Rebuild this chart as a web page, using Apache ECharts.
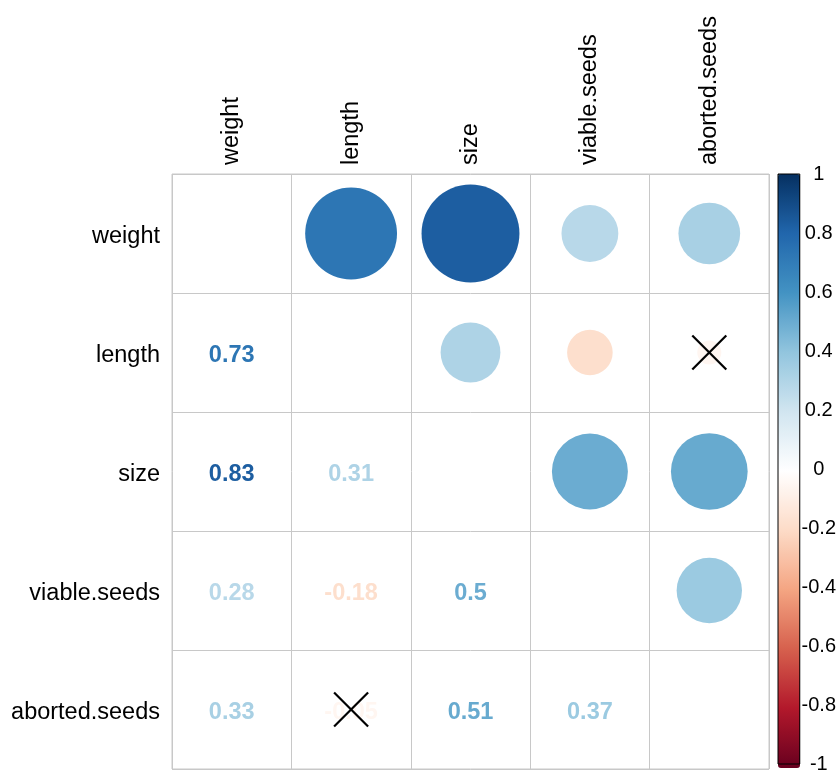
<!DOCTYPE html>
<html>
<head>
<meta charset="utf-8">
<script src="https://cdn.jsdelivr.net/npm/echarts@6/dist/echarts.min.js"></script>
<style>html,body{margin:0;padding:0;background:#fff;}#c{width:839px;height:774px;}</style>
</head>
<body>
<div id="c"></div>
<script>
// Variables (rows and columns of the correlation matrix)
const variables = ['weight', 'length', 'size', 'viable.seeds', 'aborted.seeds'];
// Correlation matrix rows
const corrWeight  = [1.00, 0.73, 0.83, 0.28, 0.33];
const corrLength  = [0.73, 1.00, 0.31, -0.18, -0.05];
const corrSize    = [0.83, 0.31, 1.00, 0.50, 0.51];
const corrViable  = [0.28, -0.18, 0.50, 1.00, 0.37];
const corrAborted = [0.33, -0.05, 0.51, 0.37, 1.00];
const corrRows = [corrWeight, corrLength, corrSize, corrViable, corrAborted];
// Non-significant pairs (marked with a cross)
const insignificant = [['length', 'aborted.seeds']];
// Colour bar tick labels
const colorbarTicks = [1, 0.8, 0.6, 0.4, 0.2, 0, -0.2, -0.4, -0.6, -0.8, -1];
// RdBu palette (low to high)
const palette = ['#67001F', '#B2182B', '#D6604D', '#F4A582', '#FDDBC7', '#FFFFFF',
                 '#D1E5F0', '#92C5DE', '#4393C3', '#2166AC', '#053061'];

const circleData = [], textData = [], crossData = [];
for (let i = 0; i < variables.length; i++) {
  for (let j = 0; j < variables.length; j++) {
    if (i === j) continue;
    const v = corrRows[i][j];
    if (j > i) circleData.push([variables[j], variables[i], v]);
    else textData.push([variables[j], variables[i], v]);
  }
}
insignificant.forEach(function (p) {
  const a = variables.indexOf(p[0]), b = variables.indexOf(p[1]);
  crossData.push([variables[b], variables[a]]);
  crossData.push([variables[a], variables[b]]);
});

const FONT = '"Liberation Sans", Arial, sans-serif';
const chart = echarts.init(document.getElementById('c'), null, {renderer: 'canvas'});
chart.setOption({
  animation: false,
  backgroundColor: '#fff',
  grid: [
    {left: 172, top: 174, width: 597, height: 595, show: true, borderColor: '#c8c8c8', borderWidth: 1, containLabel: false},
    {left: 778, top: 174, width: 22, height: 594, show: true, borderColor: '#000', borderWidth: 1, z: 10, backgroundColor: 'transparent'}
  ],
  xAxis: [
    {type: 'category', data: variables, position: 'top', gridIndex: 0,
     axisLine: {show: false}, axisTick: {show: false},
     splitLine: {show: true, interval: 0, lineStyle: {color: '#c8c8c8', width: 1}},
     axisLabel: {rotate: -90, margin: 9, color: '#000', fontSize: 23.5, fontFamily: FONT, interval: 0}},
    {type: 'value', gridIndex: 1, show: false, min: 0, max: 1}
  ],
  yAxis: [
    {type: 'category', data: variables, inverse: true, gridIndex: 0,
     axisLine: {show: false}, axisTick: {show: false},
     splitLine: {show: true, interval: 0, lineStyle: {color: '#c8c8c8', width: 1}},
     axisLabel: {margin: 12, interval: 0, formatter: '{a|{value}}',
       rich: {a: {color: '#000', fontSize: 23.5, fontFamily: FONT, padding: [7, 0, 0, 0]}}}},
    {type: 'value', gridIndex: 1, min: -1, max: 1, interval: 0.2, position: 'right',
     axisLine: {show: false}, splitLine: {show: false},
     axisTick: {show: true, length: 3, lineStyle: {color: '#000'}},
     axisLabel: {show: true, margin: 19, align: 'center', verticalAlign: 'middle', color: '#000', fontSize: 20, fontFamily: FONT,
       formatter: function (v) { const r = Math.round(v * 10) / 10; return colorbarTicks.indexOf(r) >= 0 ? String(r) : ''; }}}
  ],
  visualMap: {
    type: 'continuous', min: -1, max: 1, dimension: 2, seriesIndex: [0, 1],
    left: 778, top: 174, itemWidth: 22, itemHeight: 594, padding: 0,
    calculable: false, hoverLink: false, text: null, showLabel: false,
    inRange: {color: palette}
  },
  series: [
    {type: 'custom', xAxisIndex: 0, yAxisIndex: 0, data: circleData,
     renderItem: function (params, api) {
       const c = api.coord([api.value(0), api.value(1)]);
       const s = api.size([1, 1]);
       const r = s[0] * 0.45 * Math.sqrt(Math.abs(api.value(2)));
       return {type: 'circle', shape: {cx: c[0], cy: c[1], r: r}, style: {fill: api.visual('color')}};
     }},
    {type: 'custom', xAxisIndex: 0, yAxisIndex: 0, data: textData,
     renderItem: function (params, api) {
       const c = api.coord([api.value(0), api.value(1)]);
       return {type: 'text', x: c[0], y: c[1] + 3,
         style: {text: String(api.value(2)), fill: api.visual('color'), font: 'bold 23.5px ' + FONT, align: 'center', verticalAlign: 'middle'}};
     }},
    {type: 'custom', xAxisIndex: 0, yAxisIndex: 0, data: crossData, z: 5,
     renderItem: function (params, api) {
       const c = api.coord([api.value(0), api.value(1)]);
       const h = 17;
       return {type: 'group', children: [
         {type: 'line', shape: {x1: c[0] - h, y1: c[1] - h, x2: c[0] + h, y2: c[1] + h}, style: {stroke: '#000', lineWidth: 2.2}},
         {type: 'line', shape: {x1: c[0] - h, y1: c[1] + h, x2: c[0] + h, y2: c[1] - h}, style: {stroke: '#000', lineWidth: 2.2}}
       ]};
     }}
  ]
});
</script>
</body>
</html>
